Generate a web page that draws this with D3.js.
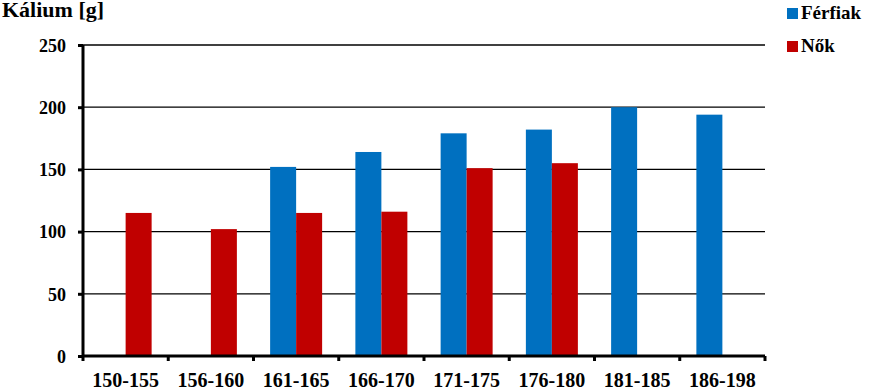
<!DOCTYPE html>
<html>
<head>
<meta charset="utf-8">
<script src="https://cdn.jsdelivr.net/npm/d3@7"></script>
</head>
<body style="margin:0">
<svg id="chart" width="870" height="388"></svg>
<script>
// data
const categories = ["150-155", "156-160", "161-165", "166-170", "171-175", "176-180", "181-185", "186-198"];
const seriesNames = ["Férfiak", "Nők"];
const ferfiak = [null, null, 152, 164, 179, 182, 200, 194];
const nok = [115, 102, 115, 116, 151, 155, null, null];
const yTicks = [0, 50, 100, 150, 200, 250];
const colors = ["#0070c0", "#c00000"];

const FONT = "Liberation Serif";

const margin = {top: 45, right: 105, bottom: 32, left: 83},
  width = 870 - margin.left - margin.right,
  height = 388 - margin.top - margin.bottom;

const svg = d3.select("#chart");
const g = svg.append("g")
  .attr("transform", "translate(" + margin.left + "," + margin.top + ")");

const x = d3.scaleBand()
  .domain(categories)
  .range([0, width]);

const bw = 26;
const y = d3.scaleLinear()
  .domain([0, 250])
  .range([height, 0]);

function serif(sel, size) {
  sel.style("font-family", FONT)
    .style("font-weight", "bold")
    .style("font-size", size + "px");
}

// gridlines
g.selectAll("line.grid")
  .data(yTicks.filter(d => d > 0))
  .enter()
    .append("line")
    .attr("class", "grid")
    .attr("x1", 0)
    .attr("x2", width)
    .attr("y1", d => y(d))
    .attr("y2", d => y(d))
    .attr("stroke", "#000")
    .attr("stroke-width", 1.3);

// bars
const series = [ferfiak, nok];
series.forEach((vals, si) => {
  g.selectAll("rect.s" + si)
    .data(categories.map((c, i) => ({c: c, v: vals[i]})).filter(d => d.v != null))
    .enter()
      .append("rect")
      .attr("class", "s" + si)
      .attr("x", d => x(d.c) + x.bandwidth() / 2 - bw + si * bw)
      .attr("y", d => y(d.v))
      .attr("width", bw)
      .attr("height", d => height - y(d.v))
      .style("fill", colors[si]);
});

// y axis
const yAxis = g.append("g")
  .call(d3.axisLeft(y).tickValues(yTicks).tickSize(5).tickPadding(12));
yAxis.select(".domain").attr("stroke-width", 3).attr("d", "M0," + (height + 1) + "V0");
yAxis.selectAll(".tick line").attr("stroke-width", 3);
yAxis.selectAll("text").call(serif, 18).attr("dy", "0.35em");

// x axis
const xAxis = g.append("g")
  .attr("transform", "translate(0," + height + ")")
  .call(d3.axisBottom(x).tickSize(0).tickPadding(17));
xAxis.select(".domain").attr("stroke-width", 3).attr("d", "M0,0H" + width);
xAxis.selectAll("text").call(serif, 20);

// x ticks at category boundaries
g.selectAll("line.xtick")
  .data(categories.map(c => x(c)).concat([width]))
  .enter()
    .append("line")
    .attr("x1", d => d)
    .attr("x2", d => d)
    .attr("y1", height)
    .attr("y2", height + 5)
    .attr("stroke", "#000")
    .attr("stroke-width", 3);

// title
svg.append("text")
  .attr("x", 2)
  .attr("y", 17)
  .call(serif, 22)
  .text("Kálium [g]");

// legend
const legend = svg.append("g")
  .attr("transform", "translate(787,8)");
seriesNames.forEach((n, i) => {
  legend.append("rect")
    .attr("x", 0)
    .attr("y", i * 33)
    .attr("width", 11)
    .attr("height", 11)
    .style("fill", colors[i]);
  legend.append("text")
    .attr("x", 14)
    .attr("y", i * 33 + 11)
    .call(serif, 19)
    .text(n);
});
</script>
</body>
</html>
